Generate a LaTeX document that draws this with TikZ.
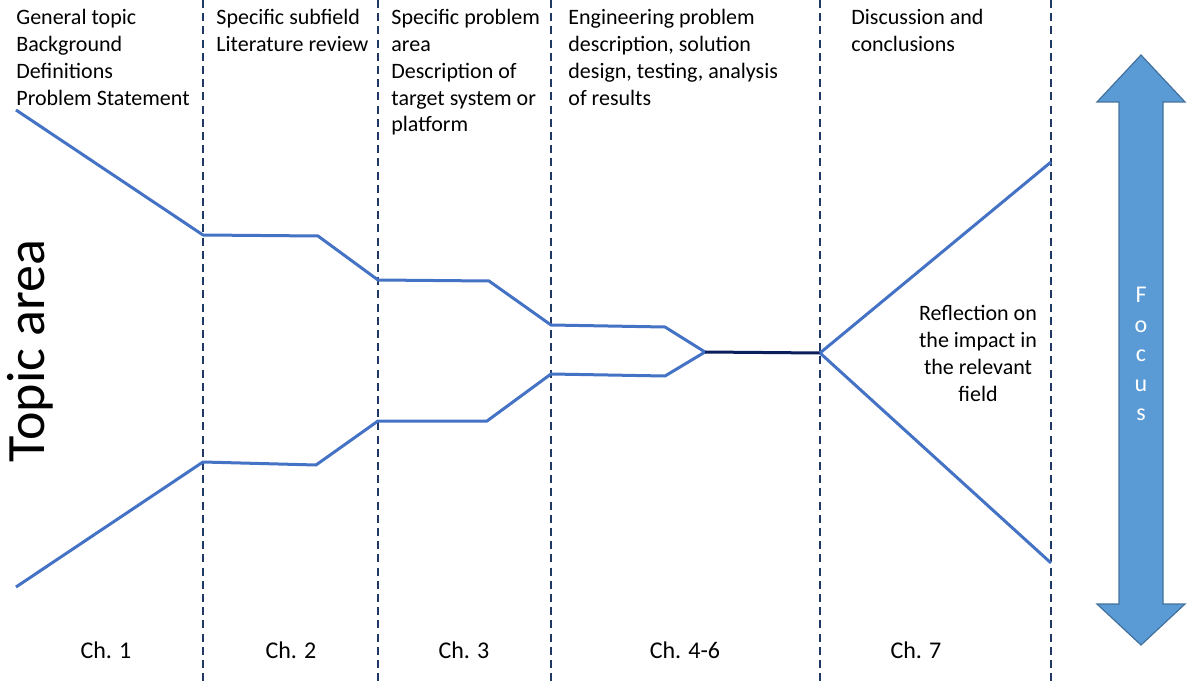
\documentclass[tikz,border=0pt]{standalone}
\usepackage{fontspec}
\setmainfont{Carlito}
\usetikzlibrary{positioning}

\definecolor{lineblue}{HTML}{4472C4}
\definecolor{navy}{HTML}{1F3864}
\definecolor{corenavy}{HTML}{0B1F5C}
\definecolor{arrowblue}{HTML}{5B9BD5}
\definecolor{arrowedge}{HTML}{41719C}

\begin{document}
\begin{tikzpicture}[
    x=0.5pt, y=-0.5pt,
    font=\fontsize{11}{13.4}\selectfont,
    % Line styles
    divider/.style={
        draw=navy, line width=1pt,
        dash pattern=on 4pt off 2.6pt
    },
    funnel/.style={
        draw=lineblue, line width=1.5pt,
        line join=round
    },
    core/.style={
        draw=corenavy, line width=1.5pt
    },
    focusarrow/.style={
        fill=arrowblue, draw=arrowedge,
        line width=0.6pt, line join=miter
    },
    % Text styles
    heading/.style={anchor=north west, inner sep=0pt, align=left},
    chlabel/.style={anchor=base, inner sep=0pt, font=\fontsize{12}{14}\selectfont},
]
\useasboundingbox (0,0) rectangle (1188,684);

%% ---- CHAPTER DIVIDERS ----
\foreach \x in {203, 378, 551, 820, 1051}
    \draw[divider] (\x,0) -- (\x,684);

%% ---- HEADINGS ----
\node[heading] (gen)  at (16, 9)  {General topic\\Background\\Definitions\\Problem Statement};
\node[heading] (sub)  at (216, 9) {Specific subfield\\Literature review};
\node[heading] (area) at (391, 9) {Specific problem\\area\\Description of\\target system or\\platform};
\node[heading] (eng)  at (568, 9) {Engineering problem\\description, solution\\design, testing, analysis\\of results};
\node[heading] (disc) at (851, 9) {Discussion and\\conclusions};

%% ---- FUNNEL POINTS ----
\coordinate (t0) at (16, 110);
\coordinate (t1) at (203, 235);
\coordinate (t2) at (318, 236);
\coordinate (t3) at (378, 280);
\coordinate (t4) at (489, 281);
\coordinate (t5) at (551, 325);
\coordinate (t6) at (665, 327);
\coordinate (b0) at (16, 587);
\coordinate (b1) at (203, 462);
\coordinate (b2) at (316, 465);
\coordinate (b3) at (378, 421);
\coordinate (b4) at (487, 421);
\coordinate (b5) at (551, 374);
\coordinate (b6) at (665, 376);
\coordinate (pinch) at (705, 352);
\coordinate (knot)  at (820, 353);
\coordinate (rtop)  at (1051, 162);
\coordinate (rbot)  at (1051, 563);

%% ---- FUNNEL LINES ----
\draw[funnel] (t0) -- (t1) -- (t2) -- (t3) -- (t4) -- (t5) -- (t6) -- (pinch);
\draw[funnel] (b0) -- (b1) -- (b2) -- (b3) -- (b4) -- (b5) -- (b6) -- (pinch);
\draw[core] (pinch) -- (knot);
\draw[funnel] (knot) -- (rtop);
\draw[funnel] (knot) -- (rbot);

%% ---- SIDE TEXTS ----
\node[rotate=90, font=\fontsize{27}{32}\selectfont] (topic) at (30, 351) {Topic area};
\node[anchor=north, inner sep=0pt, align=center] (refl) at (978, 305)
    {Reflection on\\the impact in\\the relevant\\field};

%% ---- FOCUS ARROW ----
\draw[focusarrow] (1141,55) -- (1185,102) -- (1163,102) -- (1163,604) -- (1185,604)
    -- (1141,645) -- (1097,604) -- (1119,604) -- (1119,102) -- (1097,102) -- cycle;
\node[text=white, align=center, font=\fontsize{12}{14.7}\selectfont] (focus) at (1141, 354)
    {F\\o\\c\\u\\s};

%% ---- CHAPTER LABELS ----
\node[chlabel] (ch1) at (106, 658) {Ch. 1};
\node[chlabel] (ch2) at (291, 658) {Ch. 2};
\node[chlabel] (ch3) at (464, 658) {Ch. 3};
\node[chlabel] (ch4) at (685, 658) {Ch. 4-6};
\node[chlabel] (ch7) at (916, 658) {Ch. 7};

\end{tikzpicture}
\end{document}
